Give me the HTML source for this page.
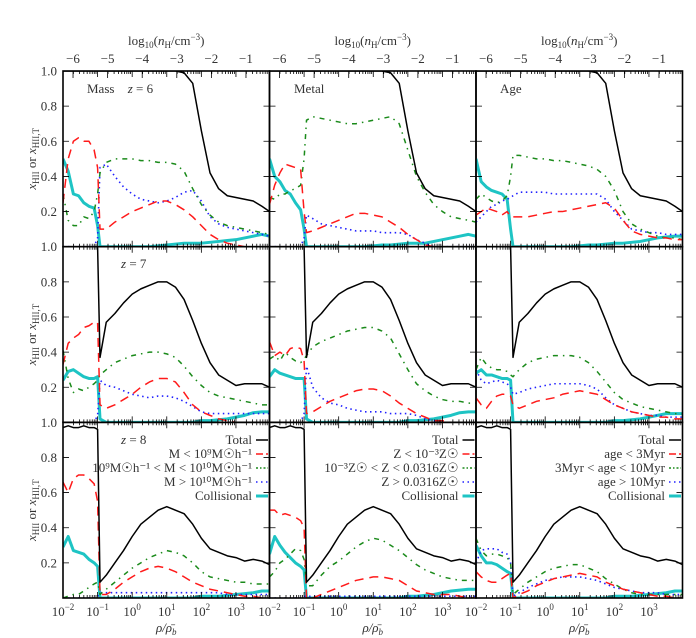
<!DOCTYPE html>
<html><head><meta charset="utf-8">
<style>
html,body{margin:0;padding:0;background:#fff;}
svg{display:block;font-family:"Liberation Serif",serif;}
</style></head>
<body>
<svg id="chart" width="696" height="638" viewBox="0 0 696 638" xmlns="http://www.w3.org/2000/svg"></svg>
<script>
// grid of log10(rho/rho_b) sample points
const logRho = [-2,-1.85,-1.7,-1.55,-1.4,-1.25,-1.1,-1.0,-0.93,-0.75,-0.5,-0.25,0,0.25,0.5,0.75,1,1.25,1.5,1.75,2,2.25,2.5,2.75,3,3.25,3.5,3.75,3.97];
const yTicks = [0.2,0.4,0.6,0.8,1.0];
const xTickExp = [-2,-1,0,1,2,3];
const topTicks = [-6,-5,-4,-3,-2,-1];
const colNames = ["Mass","Metal","Age"];
const rowZ = [6,7,8];

// Row z=6
const total_z6 = [1,1,1,1,1,1,1,1,1,1,1,1,1,1,1,1,1,1,0.99,0.93,0.66,0.42,0.33,0.29,0.28,0.27,0.26,0.23,0.2];
const mass_z6_red = [0.25,0.5,0.6,0.62,0.6,0.6,0.55,0.45,0.1,0.1,0.14,0.17,0.2,0.22,0.24,0.26,0.26,0.24,0.21,0.17,0.12,0.07,0.04,0.02,0.01,0,0,0,0];
const mass_z6_green = [0.3,0.15,0.12,0.12,0.17,0.16,0.2,0.3,0.42,0.48,0.5,0.5,0.5,0.49,0.49,0.48,0.48,0.47,0.43,0.33,0.24,0.18,0.14,0.12,0.11,0.1,0.09,0.08,0.07];
const mass_z6_blue = [0,0,0,0,0,0,0,0.05,0.45,0.47,0.4,0.34,0.3,0.27,0.26,0.25,0.26,0.28,0.31,0.32,0.26,0.17,0.13,0.11,0.1,0.09,0.08,0.07,0.06];
const mass_z6_coll = [0.5,0.43,0.3,0.29,0.25,0.23,0.22,0.12,0,0,0,0,0,0,0,0.005,0.01,0.015,0.02,0.02,0.02,0.025,0.03,0.035,0.04,0.05,0.06,0.07,0.06];
const metal_z6_red = [0.24,0.35,0.42,0.47,0.46,0.45,0.44,0.2,0.08,0.09,0.11,0.13,0.15,0.17,0.19,0.19,0.18,0.17,0.14,0.11,0.07,0.04,0.01,0,0,0,0,0,0];
const metal_z6_green = [0.28,0.27,0.3,0.3,0.32,0.33,0.35,0.5,0.72,0.74,0.73,0.72,0.71,0.7,0.7,0.71,0.72,0.73,0.74,0.7,0.55,0.4,0.31,0.24,0.2,0.17,0.16,0.15,0.14];
const metal_z6_blue = [0,0,0,0,0,0,0,0.05,0.18,0.16,0.13,0.12,0.11,0.1,0.09,0.09,0.09,0.08,0.08,0.08,0.07,0.04,0.02,0,0,0,0,0,0];
const metal_z6_coll = [0.5,0.4,0.37,0.32,0.3,0.25,0.21,0.1,0,0,0,0,0,0,0,0,0.005,0.01,0.01,0.015,0.02,0.02,0.02,0.03,0.04,0.05,0.06,0.07,0.06];
const age_z6_red = [0.18,0.2,0.22,0.21,0.2,0.18,0.2,0.17,0.17,0.17,0.17,0.18,0.19,0.2,0.2,0.21,0.22,0.23,0.24,0.25,0.22,0.15,0.09,0.07,0.06,0.05,0.05,0.04,0.04];
const age_z6_green = [0.27,0.3,0.28,0.26,0.25,0.26,0.29,0.4,0.52,0.52,0.51,0.5,0.5,0.49,0.49,0.48,0.47,0.46,0.44,0.4,0.32,0.2,0.13,0.1,0.08,0.06,0.05,0.05,0.04];
const age_z6_blue = [0.14,0.17,0.2,0.23,0.24,0.26,0.27,0.28,0.29,0.31,0.31,0.31,0.31,0.3,0.3,0.3,0.3,0.3,0.3,0.27,0.2,0.15,0.1,0.09,0.08,0.08,0.07,0.07,0.07];
const age_z6_coll = [0.5,0.37,0.34,0.32,0.31,0.3,0.27,0.1,0,0,0,0,0,0,0,0,0.005,0.01,0.01,0.015,0.02,0.02,0.025,0.03,0.04,0.05,0.055,0.06,0.06];

// Row z=7
const total_z7 = [1,1,1,1,1,1,1,1,0.37,0.57,0.62,0.68,0.73,0.76,0.78,0.8,0.8,0.77,0.7,0.58,0.45,0.34,0.27,0.24,0.21,0.22,0.22,0.22,0.2];
const mass_z7_red = [0.33,0.45,0.48,0.5,0.54,0.55,0.57,0.57,0.1,0.08,0.1,0.13,0.16,0.2,0.23,0.25,0.25,0.23,0.17,0.1,0.06,0.04,0.02,0.01,0,0,0,0,0];
const mass_z7_green = [0.41,0.25,0.17,0.19,0.18,0.2,0.22,0.24,0.27,0.3,0.34,0.36,0.38,0.39,0.4,0.4,0.39,0.37,0.32,0.26,0.21,0.17,0.15,0.14,0.13,0.12,0.11,0.1,0.1];
const mass_z7_blue = [0,0,0,0,0,0,0,0.04,0.24,0.21,0.2,0.18,0.16,0.15,0.14,0.15,0.15,0.14,0.12,0.09,0.06,0.05,0.05,0.05,0.05,0.05,0.05,0.05,0.05];
const mass_z7_coll = [0.24,0.29,0.3,0.28,0.26,0.25,0.25,0.26,0.02,0,0,0,0,0,0,0,0,0,0,0,0.01,0.01,0.015,0.02,0.03,0.04,0.055,0.06,0.06];
const metal_z7_red = [0.46,0.38,0.4,0.38,0.42,0.43,0.42,0.35,0.05,0.06,0.09,0.12,0.14,0.16,0.18,0.19,0.19,0.18,0.15,0.11,0.08,0.05,0.03,0.01,0.01,0,0,0,0];
const metal_z7_green = [0.36,0.38,0.35,0.4,0.37,0.35,0.34,0.36,0.38,0.43,0.46,0.48,0.5,0.52,0.53,0.54,0.54,0.52,0.48,0.39,0.3,0.22,0.18,0.15,0.13,0.12,0.12,0.11,0.11];
const metal_z7_blue = [0,0,0,0,0,0,0,0.05,0.32,0.2,0.14,0.11,0.1,0.08,0.07,0.06,0.06,0.06,0.05,0.05,0.05,0.04,0.02,0.01,0,0,0,0,0];
const metal_z7_coll = [0.26,0.3,0.28,0.27,0.26,0.25,0.25,0.25,0.02,0,0,0,0,0,0,0,0,0,0,0,0.01,0.01,0.015,0.02,0.03,0.04,0.055,0.06,0.06];
const age_z7_red = [0.14,0.1,0.08,0.12,0.15,0.16,0.16,0.15,0.1,0.08,0.1,0.12,0.13,0.14,0.16,0.17,0.18,0.17,0.16,0.13,0.1,0.08,0.06,0.05,0.04,0.03,0.03,0.02,0.02];
const age_z7_green = [0.3,0.37,0.33,0.31,0.3,0.3,0.29,0.27,0.26,0.3,0.34,0.36,0.37,0.38,0.38,0.38,0.37,0.34,0.29,0.23,0.17,0.13,0.11,0.09,0.08,0.07,0.06,0.05,0.05];
const age_z7_blue = [0.3,0.24,0.22,0.23,0.24,0.23,0.22,0.2,0.16,0.17,0.19,0.2,0.21,0.22,0.22,0.22,0.22,0.21,0.19,0.14,0.1,0.08,0.06,0.05,0.04,0.04,0.03,0.03,0.03];
const age_z7_coll = [0.28,0.3,0.27,0.27,0.26,0.25,0.25,0.24,0,0,0,0,0,0,0,0,0,0,0,0,0.01,0.01,0.015,0.02,0.03,0.04,0.05,0.05,0.05];

// Row z=8
const total_z8 = [0.97,0.98,0.97,0.97,0.98,0.97,0.97,0.96,0.09,0.13,0.2,0.27,0.35,0.42,0.46,0.5,0.52,0.5,0.48,0.42,0.34,0.28,0.26,0.24,0.23,0.21,0.22,0.21,0.19];
const mass_z8_red = [0.66,0.6,0.68,0.7,0.7,0.68,0.65,0.55,0.02,0.02,0.05,0.09,0.12,0.15,0.17,0.18,0.17,0.15,0.12,0.09,0.07,0.05,0.04,0.03,0.02,0.01,0.01,0,0];
const mass_z8_green = [0,0.01,0.02,0.02,0.04,0.06,0.08,0.09,0.02,0.05,0.09,0.13,0.17,0.2,0.23,0.25,0.27,0.26,0.24,0.2,0.15,0.12,0.11,0.1,0.09,0.09,0.08,0.08,0.08];
const mass_z8_blue = [0,0,0,0,0,0,0,0.01,0.03,0.03,0.03,0.03,0.03,0.03,0.03,0.03,0.03,0.03,0.03,0.03,0.03,0.03,0.03,0.02,0.02,0.02,0.02,0.02,0.02];
const mass_z8_coll = [0.29,0.35,0.27,0.26,0.25,0.22,0.2,0.18,0,0,0,0,0,0,0,0,0,0,0,0,0.01,0.01,0.01,0.015,0.02,0.025,0.03,0.04,0.04];
const metal_z8_red = [0.5,0.5,0.47,0.48,0.47,0.46,0.44,0.4,0,0,0.02,0.04,0.06,0.08,0.1,0.11,0.12,0.12,0.11,0.1,0.07,0.04,0.03,0.02,0.02,0.02,0.01,0,0];
const metal_z8_green = [0.12,0.15,0.2,0.22,0.25,0.28,0.27,0.22,0.07,0.07,0.13,0.18,0.21,0.25,0.29,0.32,0.34,0.33,0.3,0.27,0.23,0.19,0.16,0.14,0.12,0.11,0.1,0.1,0.1];
const metal_z8_blue = [0,0,0,0,0,0,0,0.01,0.01,0.01,0.01,0.01,0.01,0.01,0.01,0.01,0.01,0.01,0.01,0.01,0.01,0.01,0.01,0.01,0.01,0.01,0.01,0.01,0.01];
const metal_z8_coll = [0.25,0.35,0.3,0.26,0.23,0.2,0.18,0.16,0,0,0,0,0,0,0,0,0,0,0,0,0.01,0.01,0.015,0.02,0.03,0.04,0.045,0.05,0.05];
const age_z8_red = [0.15,0.12,0.1,0.09,0.09,0.11,0.13,0.14,0,0.02,0.04,0.07,0.09,0.11,0.12,0.13,0.14,0.13,0.12,0.09,0.07,0.05,0.04,0.03,0.02,0.01,0.01,0,0];
const age_z8_green = [0.34,0.27,0.24,0.25,0.25,0.24,0.23,0.2,0.02,0.05,0.09,0.12,0.15,0.17,0.18,0.19,0.19,0.17,0.15,0.11,0.08,0.05,0.03,0.02,0.02,0.02,0.02,0.02,0.02];
const age_z8_blue = [0.2,0.27,0.28,0.28,0.28,0.26,0.25,0.2,0.01,0.03,0.06,0.08,0.1,0.11,0.12,0.12,0.12,0.11,0.1,0.08,0.06,0.05,0.04,0.03,0.03,0.03,0.02,0.02,0.02];
const age_z8_coll = [0.3,0.24,0.2,0.2,0.19,0.17,0.15,0.14,0,0,0,0,0,0,0,0,0,0,0,0,0.01,0.01,0.01,0.015,0.02,0.025,0.03,0.04,0.04];

const legendMass = ["M < 10⁹M☉h⁻¹","10⁹M☉h⁻¹ < M < 10¹⁰M☉h⁻¹","M > 10¹⁰M☉h⁻¹"];
const legendMetal = ["Z < 10⁻³Z☉","10⁻³Z☉ < Z < 0.0316Z☉","Z > 0.0316Z☉"];
const legendAge = ["age < 3Myr","3Myr < age < 10Myr","age > 10Myr"];

const panels = [
 [[total_z6,mass_z6_red,mass_z6_green,mass_z6_blue,mass_z6_coll],[total_z6,metal_z6_red,metal_z6_green,metal_z6_blue,metal_z6_coll],[total_z6,age_z6_red,age_z6_green,age_z6_blue,age_z6_coll]],
 [[total_z7,mass_z7_red,mass_z7_green,mass_z7_blue,mass_z7_coll],[total_z7,metal_z7_red,metal_z7_green,metal_z7_blue,metal_z7_coll],[total_z7,age_z7_red,age_z7_green,age_z7_blue,age_z7_coll]],
 [[total_z8,mass_z8_red,mass_z8_green,mass_z8_blue,mass_z8_coll],[total_z8,metal_z8_red,metal_z8_green,metal_z8_blue,metal_z8_coll],[total_z8,age_z8_red,age_z8_green,age_z8_blue,age_z8_coll]]
];

const NS="http://www.w3.org/2000/svg";
const svg=document.getElementById('chart');
const PX=[63,269.5,476], PW=206.5, PY=[71,246.7,422.3], PH=175.7;
const XMIN=-2, XMAX=3.97, NH_OFF=4.29;
function xs(c,lr){return PX[c]+(lr-XMIN)/(XMAX-XMIN)*PW;}
function ys(r,v){return PY[r]+PH-(v)*PH;}
function mk(tag,attrs,parent){const e=document.createElementNS(NS,tag);for(const k in attrs)e.setAttribute(k,attrs[k]);(parent||svg).appendChild(e);return e;}

const styles=[
 {name:'total',stroke:'#000',w:1.5,dash:''},
 {name:'low',stroke:'#ff1a1a',w:1.5,dash:'9,6'},
 {name:'mid',stroke:'#1a8a1a',w:1.5,dash:'5,5,1.5,5'},
 {name:'high',stroke:'#2020ff',w:1.6,dash:'1.5,3.5'},
 {name:'collisional',stroke:'#1ec4c4',w:3,dash:''}
];

for(let r=0;r<3;r++){
 for(let c=0;c<3;c++){
  const g=mk('g',{});
  
  
  const cid='clip'+r+c;
  const cp=mk('clipPath',{id:cid},g);
  mk('rect',{x:PX[c],y:PY[r],width:PW,height:PH},cp);
  // series
  const order=[4,3,2,1,0];
  for(const s of order){
   const vals=panels[r][c][s];
   let d='';
   for(let i=0;i<logRho.length;i++){d+=(i?'L':'M')+xs(c,logRho[i]).toFixed(2)+','+ys(r,vals[i]).toFixed(2);}
   const p=mk('path',{d:d,fill:'none',stroke:styles[s].stroke,'stroke-width':styles[s].w,'stroke-dasharray':styles[s].dash,'stroke-linejoin':'round','clip-path':'url(#'+cid+')'},g);
   
   
  }
  // ticks
  let td='';
  for(let d=-2;d<=4;d++){
   for(let m=1;m<=9;m++){
    const lr=d+Math.log10(m); if(lr<XMIN-1e-6||lr>XMAX+1e-6) continue;
    const x=xs(c,lr); const L=(m===1)?6:3;
    td+='M'+x+','+(PY[r]+PH)+'v'+(-L)+'M'+x+','+PY[r]+'v'+L;
   }
  }
  for(const v of yTicks){const y=ys(r,v);td+='M'+PX[c]+','+y+'h6M'+(PX[c]+PW)+','+y+'h-6';}
  if(r===0){
   for(let n=-6;n<=-0.3;n+=0.1){ }
   for(const t of topTicks){const x=xs(c,t+NH_OFF);td+='M'+x+','+PY[0]+'v7';}
  }
  const tk=mk('path',{d:td,stroke:'#000','stroke-width':0.8,fill:'none'},g);
  
  
  const fr=mk('rect',{x:PX[c],y:PY[r],width:PW,height:PH,fill:'none',stroke:'#000','stroke-width':1.6},g);
  
  
 }
 // y tick labels
 for(const v of yTicks){
  const t=mk('text',{x:57,y:ys(r,v)+4.5,'text-anchor':'end','font-size':13,fill:'#333'});
  t.textContent=v.toFixed(1);
  
  
 }
 // y title
 const cy=PY[r]+PH/2;
 const yt=mk('text',{x:0,y:0,transform:'translate(36,'+cy+') rotate(-90)','text-anchor':'middle','font-size':13,fill:'#333'});
 
 
 yt.innerHTML='<tspan font-style="italic">x</tspan><tspan font-size="9" dy="3">HII</tspan><tspan dy="-3"> or </tspan><tspan font-style="italic">x</tspan><tspan font-size="9" dy="3">HII,T</tspan>';
}

// bottom x labels & top labels
for(let c=0;c<3;c++){
 for(const e of xTickExp){
  const t=mk('text',{x:xs(c,e),y:616,'text-anchor':'middle','font-size':13,fill:'#333'});
  t.innerHTML='10<tspan font-size="9" dy="-6">'+(e<0?'−'+(-e):e)+'</tspan>';
  
  
 }
 const xl=mk('text',{x:PX[c]+PW/2,y:632,'text-anchor':'middle','font-size':13,fill:'#333','font-style':'italic'});
 xl.innerHTML='ρ/ρ̄<tspan font-size="9" dy="3">b</tspan>';
 
 
 for(const t0 of topTicks){
  const t=mk('text',{x:xs(c,t0+NH_OFF),y:63,'text-anchor':'middle','font-size':13,fill:'#333'});
  t.textContent='−'+(-t0);
  
  
 }
 const tt=mk('text',{x:PX[c]+PW/2,y:45,'text-anchor':'middle','font-size':13,fill:'#333'});
 tt.innerHTML='log<tspan font-size="9" dy="3">10</tspan><tspan dy="-3">(</tspan><tspan font-style="italic">n</tspan><tspan font-size="9" dy="3">H</tspan><tspan dy="-3">/cm</tspan><tspan font-size="9" dy="-5">−3</tspan><tspan dy="5">)</tspan>';
 
 
}

// panel labels
function label(x,y,html,name){const t=mk('text',{x:x,y:y,'font-size':13,fill:'#333'});t.innerHTML=html;}
label(87,93,'Mass <tspan dx="10" font-style="italic">z</tspan> = 6','label-mass-z6');
label(294,93,'Metal','label-metal');
label(500,93,'Age','label-age');
label(121,268,'<tspan font-style="italic">z</tspan> = 7','label-z7');
label(121,444,'<tspan font-style="italic">z</tspan> = 8','label-z8');

// legends
const legs=[legendMass,legendMetal,legendAge];
for(let c=0;c<3;c++){
 const items=['Total'].concat(legs[c]).concat(['Collisional']);
 for(let i=0;i<5;i++){
  const y=444+i*14;
  const rx=PX[c]+189;
  const t=mk('text',{x:rx,y:y,'text-anchor':'end','font-size':13,fill:'#333'});
  t.textContent=items[i];
  
  
  const l=mk('line',{x1:rx+4,x2:rx+16,y1:y-4,y2:y-4,stroke:styles[i].stroke,'stroke-width':styles[i].w,'stroke-dasharray':styles[i].dash==='9,6'?'7,3':(styles[i].dash==='5,5,1.5,5'?'2,2,1.5,2':styles[i].dash)});
  
  
 }
}
</script>
</body></html>
